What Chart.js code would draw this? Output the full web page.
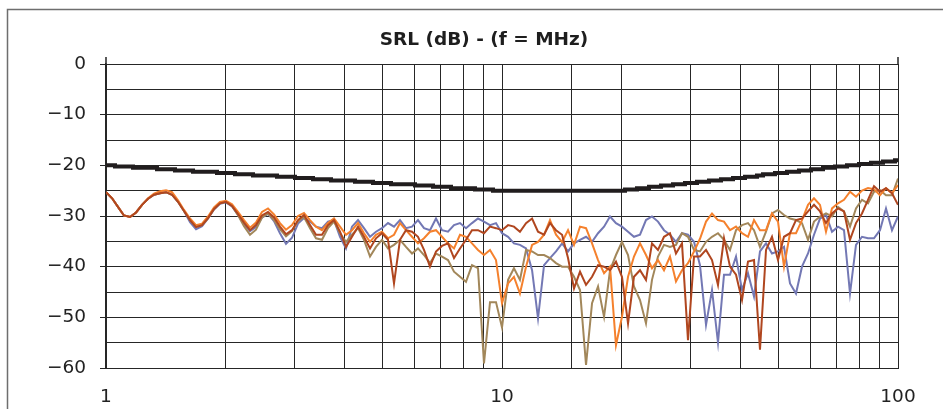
<!DOCTYPE html>
<html>
<head>
<meta charset="utf-8">
<script src="https://cdn.jsdelivr.net/npm/chart.js@4.4.1/dist/chart.umd.min.js"></script>
<style>
  html, body { margin: 0; padding: 0; background: #fff; }
  #wrap { width: 943px; height: 409px; position: relative; }
</style>
</head>
<body>
<div id="wrap"><canvas id="srl"></canvas></div>
<script>
const chartTitle = 'SRL (dB) - (f = MHz)';

// frequency grid (MHz), log spaced
const freqMHz = [
  1, 1.036, 1.072, 1.110, 1.150, 1.191, 1.233, 1.277, 1.322, 1.369, 1.418,
  1.468, 1.520, 1.574, 1.630, 1.688, 1.748, 1.810, 1.874, 1.940, 2.009, 2.081,
  2.154, 2.231, 2.310, 2.392, 2.477, 2.565, 2.656, 2.750, 2.848, 2.949, 3.054,
  3.162, 3.275, 3.391, 3.511, 3.636, 3.765, 3.899, 4.037, 4.180, 4.329, 4.482,
  4.642, 4.806, 4.977, 5.154, 5.337, 5.526, 5.722, 5.926, 6.136, 6.354, 6.579,
  6.813, 7.055, 7.305, 7.565, 7.833, 8.111, 8.399, 8.697, 9.006, 9.326, 9.657,
  10, 10.36, 10.72, 11.10, 11.50, 11.91, 12.33, 12.77, 13.22, 13.69, 14.18,
  14.68, 15.20, 15.74, 16.30, 16.88, 17.48, 18.10, 18.74, 19.40, 20.09, 20.81,
  21.54, 22.31, 23.10, 23.92, 24.77, 25.65, 26.56, 27.50, 28.48, 29.49, 30.54,
  31.62, 32.75, 33.91, 35.11, 36.36, 37.65, 38.99, 40.37, 41.80, 43.29, 44.82,
  46.42, 48.06, 49.77, 51.54, 53.37, 55.26, 57.22, 59.26, 61.36, 63.54, 65.79,
  68.13, 70.55, 73.05, 75.65, 78.33, 81.11, 83.99, 86.97, 90.06, 93.26, 96.57,
  100
];

// limit line (dB)
const limitDb = [
  -20, -20, -20.25, -20.25, -20.25, -20.5, -20.5, -20.5, -20.5, -20.75, -20.75,
  -20.75, -21, -21, -21, -21.25, -21.25, -21.25, -21.25, -21.5, -21.5, -21.5,
  -21.75, -21.75, -21.75, -22, -22, -22, -22, -22.25, -22.25, -22.25, -22.5,
  -22.5, -22.5, -22.75, -22.75, -22.75, -23, -23, -23, -23, -23.25, -23.25,
  -23.25, -23.5, -23.5, -23.5, -23.75, -23.75, -23.75, -23.75, -24, -24, -24,
  -24.25, -24.25, -24.25, -24.5, -24.5, -24.5, -24.5, -24.75, -24.75, -24.75, -25,
  -25, -25, -25, -25, -25, -25, -25, -25, -25, -25, -25,
  -25, -25, -25, -25, -25, -25, -25, -25, -25, -25, -24.75,
  -24.75, -24.5, -24.5, -24.25, -24.25, -24, -24, -23.75, -23.75, -23.5, -23.5,
  -23.25, -23.25, -23, -23, -22.75, -22.75, -22.5, -22.5, -22.25, -22.25, -22,
  -21.75, -21.75, -21.5, -21.5, -21.25, -21.25, -21, -21, -20.75, -20.75, -20.5,
  -20.5, -20.25, -20.25, -20, -20, -19.75, -19.75, -19.5, -19.5, -19.25, -19.25,
  -19
];

const blueDb = [
  -25.3, -26.5, -28.2, -29.9, -30.2, -29.3, -27.8, -26.6, -25.8, -25.5, -25.3,
  -25.8, -27.2, -29.0, -31.2, -32.6, -32.0, -30.5, -28.7, -27.6, -27.3, -28.1,
  -29.8, -31.6, -33.0, -32.2, -30.3, -29.6, -31.0, -33.4, -35.5, -34.3, -31.5,
  -30.4, -31.1, -32.1, -32.4, -31.1, -30.8, -34.1, -36.4, -32.1, -30.8, -32.4,
  -34.1, -33.1, -32.4, -31.4, -32.1, -30.8, -32.4, -32.1, -30.8, -32.4, -32.8,
  -30.5, -32.8, -33.1, -31.8, -31.4, -32.4, -31.4, -30.5, -31.1, -31.8, -31.4,
  -33.4, -34.1, -35.4, -35.7, -36.4, -40.7, -50.2, -39.7, -38.3, -37.0, -35.4,
  -37.0, -35.4, -34.7, -34.1, -35.1, -33.4, -32.1, -30.1, -31.4, -32.1, -33.1,
  -34.1, -33.7, -30.8, -30.1, -31.1, -32.8, -33.7, -35.1, -33.4, -33.7, -35.1,
  -39.7, -51.5, -44.6, -55.0, -41.6, -41.6, -38.0, -44.6, -41.3, -45.9, -37.0,
  -35.4, -37.4, -37.0, -36.1, -43.3, -45.3, -40.0, -37.4, -33.7, -30.5, -29.8,
  -33.1, -32.1, -32.8, -45.3, -35.7, -34.1, -34.4, -34.4, -32.8, -28.5, -32.8,
  -30.1
];

const redDb = [
  -25.3, -26.5, -28.2, -29.9, -30.2, -29.3, -27.8, -26.6, -25.8, -25.5, -25.3,
  -25.8, -27.2, -29.0, -30.8, -32.2, -31.8, -30.4, -28.6, -27.5, -27.2, -28.0,
  -29.6, -31.3, -32.8, -31.8, -29.9, -29.2, -30.3, -32.1, -33.6, -32.8, -30.8,
  -29.8, -31.8, -33.7, -33.7, -31.8, -30.8, -33.1, -36.1, -34.1, -32.1, -34.1,
  -36.4, -34.4, -33.4, -34.7, -43.3, -34.7, -32.8, -33.1, -34.1, -36.7, -40.0,
  -37.0, -35.9, -35.4, -38.3, -36.4, -34.7, -32.8, -32.8, -33.4, -32.1, -32.4,
  -32.8, -31.8, -32.1, -33.1, -31.4, -30.5, -33.1, -33.7, -31.4, -32.8, -33.7,
  -38.3, -44.3, -41.0, -43.6, -42.0, -39.7, -40.0, -40.7, -39.0, -42.0, -51.2,
  -42.0, -40.7, -42.6, -35.4, -36.7, -34.1, -33.4, -37.4, -35.4, -54.5, -38.0,
  -38.0, -36.7, -38.7, -43.6, -34.4, -40.0, -41.6, -46.6, -39.0, -38.7, -56.4,
  -36.7, -34.1, -38.7, -34.1, -33.4, -30.8, -30.5, -29.1, -27.8, -29.1, -31.4,
  -29.5, -28.5, -29.1, -34.7, -31.4, -29.5, -26.8, -24.1, -25.2, -24.5, -25.5,
  -27.8
];

const orangeDb = [
  -25.3, -26.5, -28.2, -29.9, -30.2, -29.3, -27.8, -26.5, -25.6, -25.1, -24.9,
  -25.3, -26.9, -28.8, -30.5, -31.8, -31.5, -30.1, -28.3, -27.2, -27.0, -27.7,
  -29.2, -30.8, -32.3, -31.3, -29.2, -28.5, -29.7, -31.4, -32.7, -31.8, -30.0,
  -29.4, -30.8, -32.1, -32.8, -31.4, -30.5, -32.1, -33.7, -32.8, -31.4, -33.4,
  -35.1, -33.7, -33.1, -34.4, -33.7, -31.4, -32.8, -34.1, -35.4, -34.4, -33.1,
  -32.8, -34.1, -35.4, -36.4, -33.7, -34.1, -35.4, -36.7, -37.7, -36.7, -38.7,
  -47.2, -43.3, -42.0, -45.3, -40.0, -35.7, -35.1, -33.7, -30.8, -33.7, -35.1,
  -32.8, -35.7, -32.1, -32.4, -35.4, -38.7, -41.3, -40.0, -55.5, -49.9, -42.0,
  -38.0, -35.4, -37.7, -40.3, -38.7, -40.7, -38.0, -42.9, -40.7, -39.3, -37.0,
  -34.5, -31.1, -29.5, -30.8, -31.1, -32.8, -32.1, -33.4, -34.1, -30.8, -32.8,
  -32.8, -29.5, -31.1, -40.0, -33.4, -33.4, -30.8, -27.8, -26.5, -27.8, -33.1,
  -28.5, -27.5, -26.8, -25.2, -26.2, -25.0, -24.5, -24.7, -25.9, -24.5, -25.5,
  -23.9
];

const oliveDb = [
  -25.3, -26.5, -28.2, -29.9, -30.2, -29.3, -27.8, -26.6, -25.8, -25.5, -25.3,
  -25.8, -27.2, -29.0, -30.8, -32.0, -31.8, -30.4, -28.6, -27.5, -27.2, -28.0,
  -29.8, -32.0, -33.7, -32.7, -30.3, -29.5, -30.8, -32.6, -34.0, -33.0, -31.0,
  -30.2, -32.4, -34.4, -34.7, -32.4, -31.1, -33.4, -35.1, -33.7, -32.4, -34.7,
  -38.0, -36.1, -34.7, -36.4, -35.7, -34.7, -36.1, -37.4, -36.4, -37.7, -39.3,
  -37.4, -38.0, -38.7, -41.0, -42.0, -43.0, -39.7, -40.3, -59.1, -47.0, -47.0,
  -52.0, -42.6, -40.3, -42.6, -36.7, -37.0, -37.7, -37.7, -38.3, -39.3, -40.0,
  -40.0, -42.0, -44.6, -59.4, -47.2, -43.9, -49.9, -40.7, -37.7, -35.1, -37.7,
  -43.9, -46.6, -51.2, -42.6, -38.0, -35.7, -36.1, -35.7, -33.4, -34.1, -36.7,
  -37.0, -35.1, -34.1, -33.4, -34.7, -36.7, -32.8, -31.8, -31.4, -32.8, -36.1,
  -33.1, -29.5, -28.8, -29.8, -30.5, -30.8, -31.4, -34.7, -31.1, -30.1, -29.5,
  -30.1, -28.2, -29.1, -32.1, -28.5, -26.8, -27.5, -25.2, -24.9, -25.9, -25.9,
  -22.6
];

const xLabelled = [1, 10, 100];

function toPoints(values) {
  return freqMHz.map((f, i) => ({ x: f, y: values[i] }));
}

// grey frame round the whole figure, the title, and the small
// overhang of the two side lines above the plot
const framePlugin = {
  id: 'frame',
  beforeDraw(chart) {
    const c = chart.ctx;
    c.save();
    c.strokeStyle = '#6e6e6e';
    c.lineWidth = 1.5;
    c.beginPath();
    c.moveTo(7.5, chart.height + 5);
    c.lineTo(7.5, 9.5);
    c.lineTo(chart.width + 5, 9.5);
    c.stroke();

    c.fillStyle = '#1e1e1e';
    c.font = "bold 18.5px 'DejaVu Sans', sans-serif";
    c.textAlign = 'center';
    c.textBaseline = 'middle';
    c.fillText(chartTitle, 484, 40);
    c.restore();
  },
  afterDraw(chart) {
    const a = chart.chartArea;
    const c = chart.ctx;
    c.save();
    c.strokeStyle = '#262626';
    c.lineWidth = 1.5;
    c.beginPath();
    c.moveTo(a.left, a.top);
    c.lineTo(a.left, a.top - 7);
    c.moveTo(a.right, a.top);
    c.lineTo(a.right, a.top - 7);
    c.stroke();
    c.restore();
  }
};

const lineColor = '#262626';

new Chart(document.getElementById('srl'), {
  type: 'line',
  data: {
    datasets: [
      { label: 'Limit', data: toPoints(limitDb), borderColor: '#211d1e', borderWidth: 4, stepped: 'middle' },
      { label: 'Pair 1', data: toPoints(redDb), borderColor: '#b0461f', borderWidth: 2 },
      { label: 'Pair 2', data: toPoints(orangeDb), borderColor: '#f5812d', borderWidth: 2 },
      { label: 'Pair 3', data: toPoints(oliveDb), borderColor: '#a2875a', borderWidth: 2 },
      { label: 'Pair 4', data: toPoints(blueDb), borderColor: '#7378b4', borderWidth: 2 }
    ]
  },
  options: {
    responsive: true,
    maintainAspectRatio: false,
    animation: false,
    elements: { point: { radius: 0 }, line: { tension: 0 } },
    layout: { padding: { left: 0, right: 45, top: 64, bottom: 0 } },
    plugins: {
      legend: { display: false },
      tooltip: { enabled: false },
      title: { display: false }
    },
    scales: {
      x: {
        type: 'logarithmic',
        min: 1,
        max: 100,
        afterFit: function(scale) { scale.height = 41; },
        grid: { color: lineColor, lineWidth: 1, drawTicks: false },
        border: { color: lineColor },
        ticks: {
          autoSkip: false,
          maxRotation: 0,
          padding: 18,
          color: '#222',
          font: { family: "'DejaVu Sans', sans-serif", size: 18.5 },
          callback: function(value) {
            return xLabelled.includes(value) ? String(value) : '';
          }
        }
      },
      y: {
        min: -60,
        max: 0,
        afterFit: function(scale) { scale.width = 106; },
        grid: {
          color: lineColor,
          lineWidth: 1,
          tickLength: 6,
          tickColor: ctx => (ctx.tick && ctx.tick.value % 10 === 0) ? lineColor : 'rgba(0,0,0,0)'
        },
        border: { color: lineColor, width: 1.5 },
        ticks: {
          stepSize: 5,
          padding: 14,
          color: '#222',
          font: { family: "'DejaVu Sans', sans-serif", size: 18.5 },
          callback: function(value) {
            if (value % 10 !== 0) return '';
            return value < 0 ? '\u2212' + Math.abs(value) : String(value);
          }
        }
      }
    }
  },
  plugins: [framePlugin]
});
</script>
</body>
</html>
